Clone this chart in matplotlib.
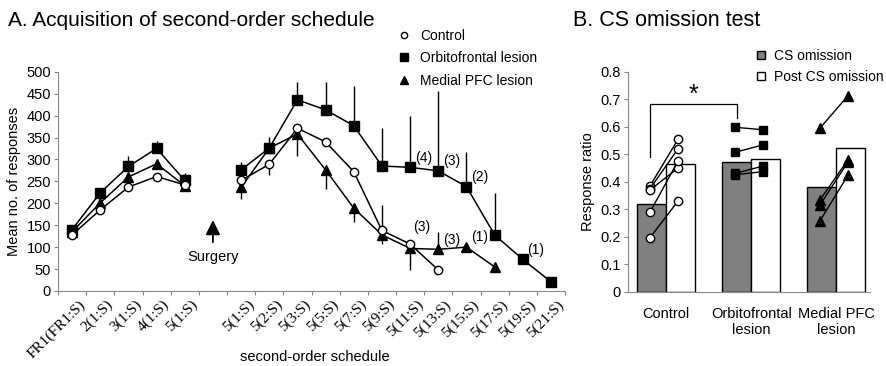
import numpy as np
import matplotlib
matplotlib.use("Agg")
from matplotlib import pyplot as plt
from matplotlib.transforms import ScaledTranslation

plt.rcParams['font.family'] = ['Liberation Sans', 'DejaVu Sans']

# ---- Panel A data ----
# slot 5 is the surgery gap
x_labels = ['FR1(FR1:S)', '2(1:S)', '3(1:S)', '4(1:S)', '5(1:S)', '',
            '5(1:S)', '5(2:S)', '5(3:S)', '5(5:S)', '5(7:S)', '5(9:S)',
            '5(11:S)', '5(13:S)', '5(15:S)', '5(17:S)', '5(19:S)', '5(21:S)']

control_pre = [128, 185, 237, 261, 242]
control_post = [252, 289, 371, 340, 272, 138, 107, 48]
ofc_pre = [140, 224, 284, 325, 252]
ofc_post = [276, 326, 436, 413, 377, 285, 282, 274, 238, 128, 72, 21]
mpfc_pre = [135, 201, 260, 290, 240]
mpfc_post = [236, 326, 358, 276, 189, 128, 97, 95, 100, 55]

# error bars (down, up)
control_err_dn_post = [0, 24, 0, 0, 0, 0, 0, 0]
control_err_up_post = [0, 0, 0, 0, 0, 58, 0, 0]
ofc_err_up_pre = [8, 0, 24, 18, 16]
ofc_err_up_post = [19, 26, 40, 63, 91, 86, 116, 181, 80, 95, 0, 0]
mpfc_err_dn_pre = [0, 0, 0, 0, 10]
mpfc_err_dn_post = [27, 0, 51, 43, 31, 21, 49, 0, 0, 0]
mpfc_err_up_post = [0, 0, 0, 0, 0, 0, 0, 40, 0, 0]

# sample size notes: (series values, slot, text)
n_notes = [(ofc_post, 12, '(4)'), (ofc_post, 13, '(3)'), (ofc_post, 14, '(2)'),
           (ofc_post, 16, '(1)'), (mpfc_post, 13, '(3)'), (mpfc_post, 14, '(1)')]

# ---- Panel B data ----
groups = ['Control', 'Orbitofrontal\nlesion', 'Medial PFC\nlesion']
cs_omission = [0.32, 0.47, 0.38]
post_cs_omission = [0.464, 0.483, 0.521]
ctrl_ind_pre = [0.385, 0.375, 0.37, 0.29, 0.197]
ctrl_ind_post = [0.555, 0.52, 0.45, 0.476, 0.33]
ofc_ind_pre = [0.598, 0.507, 0.43, 0.425]
ofc_ind_post = [0.589, 0.534, 0.457, 0.437]
mpfc_ind_pre = [0.595, 0.334, 0.316, 0.258]
mpfc_ind_post = [0.713, 0.48, 0.472, 0.424]

fig = plt.figure(figsize=(8.87, 3.66), dpi=100)

# ================= Panel A =================
ax = fig.add_axes([0.0654, 0.205, 0.5716, 0.599])
pre_x = np.arange(5) + 0.5
post_x = np.arange(6, 18) + 0.5

def series(vals_pre, vals_post, marker, face, dn_pre=None, up_pre=None, dn_post=None, up_post=None):
    xp = pre_x[:len(vals_pre)]
    xq = post_x[:len(vals_post)]
    for xs, vs, dn, up in [(xp, vals_pre, dn_pre, up_pre), (xq, vals_post, dn_post, up_post)]:
        n = len(vs)
        dn = dn if dn is not None else [0] * n
        up = up if up is not None else [0] * n
        ax.errorbar(xs, vs, yerr=[dn, up], fmt='none', ecolor='black', elinewidth=1.0, capsize=0, zorder=2)
        ax.plot(xs, vs, color='black', lw=1.1, marker=marker, ms=6.5 if marker != 'o' else 6,
                mfc=face, mec='black', mew=1.0, zorder=3)

series(ofc_pre, ofc_post, 's', 'black', up_pre=ofc_err_up_pre, up_post=ofc_err_up_post)
series(mpfc_pre, mpfc_post, '^', 'black', dn_pre=mpfc_err_dn_pre, dn_post=mpfc_err_dn_post, up_post=mpfc_err_up_post)
series(control_pre, control_post, 'o', 'white', dn_post=control_err_dn_post, up_post=control_err_up_post)

for vals, slot, txt in n_notes:
    v = vals[slot - 6]
    ax.text(slot + 0.67, v + 22, txt, fontsize=10, ha='left', va='center')
ax.text(12.9, 147, '(3)', fontsize=10, ha='center', va='center')

ax.set_xlim(0, 18)
ax.set_ylim(0, 500)
ax.set_yticks(np.arange(0, 501, 50))
ax.tick_params(axis='y', labelsize=10.5, length=3, pad=2)
ax.set_xticks(np.arange(0, 19))
ax.set_xticklabels([])
ax.tick_params(axis='x', which='major', length=3, direction='out')
ax.set_xticks(np.arange(18) + 0.5, minor=True)
ax.set_xticklabels(x_labels, minor=True, rotation=45, ha='right', rotation_mode='anchor',
                   fontsize=11, family='Liberation Serif')
ax.tick_params(axis='x', which='minor', length=0, pad=5)
shift = ScaledTranslation(6 / 100, 0, fig.dpi_scale_trans)
for lab in ax.get_xticklabels(minor=True):
    lab.set_transform(lab.get_transform() + shift)
for s in ['top', 'right']:
    ax.spines[s].set_visible(False)
for s in ['left', 'bottom']:
    ax.spines[s].set_color('#888888')
ax.tick_params(colors='#888888', labelcolor='black')
ax.tick_params(axis='x', which='minor', labelcolor='black')
ax.set_ylabel('Mean no. of responses', fontsize=10.5, labelpad=4)
fig.text(315 / 887, 1 - 357 / 366, 'second-order schedule', fontsize=10.5, ha='center', va='center')

ax.annotate('', xy=(5.5, 168), xytext=(5.5, 105),
            arrowprops=dict(arrowstyle='-|>', color='black', lw=1.3, mutation_scale=22))
ax.text(5.5, 78, 'Surgery', fontsize=10.5, ha='center', va='center')

ax.plot([], [], 'o', mfc='white', mec='black', ms=4.5, label='Control')
ax.plot([], [], 's', color='black', ms=5.5, label='Orbitofrontal lesion')
ax.plot([], [], '^', color='black', ms=6, label='Medial PFC lesion')
h, l = ax.get_legend_handles_labels()
fig.legend(h[-3:], l[-3:], loc='upper left', bbox_to_anchor=(388 / 887, 1 - 22 / 366),
           frameon=False, fontsize=10, handlelength=1.3, handletextpad=0.5, labelspacing=0.6,
           borderpad=0)
fig.text(8 / 887, 1 - 20 / 366, 'A. Acquisition of second-order schedule', fontsize=15, va='center')

# ================= Panel B =================
bx = fig.add_axes([0.708, 0.203, 0.273, 0.601])
gx = np.arange(3)
w = 0.34
bx.bar(gx - w / 2, cs_omission, w, color='#808080', edgecolor='black', lw=1.0, label='CS omission', zorder=1)
bx.bar(gx + w / 2, post_cs_omission, w, color='white', edgecolor='black', lw=1.0, label='Post CS omission', zorder=1)

ind = [(ctrl_ind_pre, ctrl_ind_post, 'o', 'white', 6),
       (ofc_ind_pre, ofc_ind_post, 's', 'black', 6),
       (mpfc_ind_pre, mpfc_ind_post, '^', 'black', 7)]
for i, (pre, post, mk, fc, ms) in enumerate(ind):
    for a, b in zip(pre, post):
        bx.plot([i - 0.19, i + 0.14], [a, b], color='black', lw=1.0, marker=mk, ms=ms,
                mfc=fc, mec='black', mew=1.0, zorder=3)

bx.plot([-0.19, -0.19, 0.83, 0.83], [0.49, 0.683, 0.683, 0.63], color='black', lw=0.9)
bx.text(0.32, 0.715, '*', fontsize=18, ha='center', va='center')

bx.set_xlim(-0.45, 2.4)
bx.set_ylim(0, 0.8)
bx.set_yticks(np.arange(0, 0.81, 0.1))
bx.set_yticklabels(['0'] + ['%.1f' % v for v in np.arange(0.1, 0.81, 0.1)])
bx.tick_params(axis='y', labelsize=10.5, length=3, pad=2, colors='#888888', labelcolor='black')
bx.set_xticks(gx)
bx.set_xticklabels(groups, fontsize=10.5, linespacing=1.15)
bx.tick_params(axis='x', length=0, pad=11)
for s in ['top', 'right']:
    bx.spines[s].set_visible(False)
for s in ['left', 'bottom']:
    bx.spines[s].set_color('#888888')
bx.set_ylabel('Response ratio', fontsize=10.5, labelpad=4)
bx.legend(loc='upper left', bbox_to_anchor=(750 / 887, 1 - 42 / 366), bbox_transform=fig.transFigure,
          frameon=False, fontsize=10, handlelength=0.6, handleheight=0.6, handletextpad=0.6,
          labelspacing=0.5, borderpad=0)
fig.text(573 / 887, 1 - 21 / 366, 'B. CS omission test', fontsize=15.5, va='center')

fig.savefig('out.png', dpi=100)
